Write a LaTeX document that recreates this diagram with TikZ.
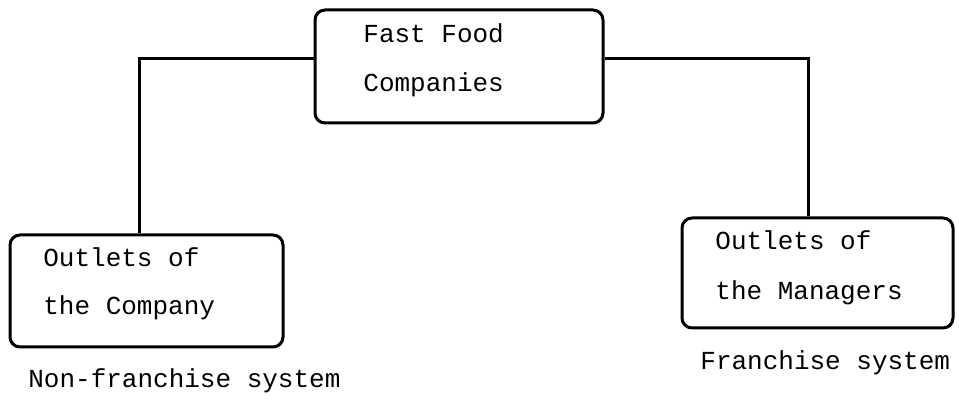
\documentclass[tikz,border=0pt]{standalone}
\usepackage{fontspec}
\setmainfont{Liberation Mono}
\usepackage{tikz}
\usetikzlibrary{positioning}
\tikzstyle{orgbox} = [draw, line width=1.5pt, rounded corners=5pt, inner sep=0pt]
\tikzstyle{boxtext} = [anchor=base west, inner sep=0pt, font=\fontsize{13}{15}\selectfont]
\tikzstyle{link} = [line width=1.5pt]

\begin{document}
\begin{tikzpicture}[x=0.5pt, y=-0.5pt]
\useasboundingbox (0,0) rectangle (959,405);
% Top box
\node[orgbox, minimum width=144pt, minimum height=56.5pt] (comp) at (459,66.5) {};
\node[boxtext] (comp1) at (363,43) {Fast Food};
\node[boxtext] (comp2) at (363,92) {Companies};

% Company outlets
\node[orgbox, minimum width=136.5pt, minimum height=56pt] (own) at (146.5,291) {};
\node[boxtext] (own1) at (43,267) {Outlets of};
\node[boxtext] (own2) at (43,315) {the Company};
\node[boxtext] (ownlbl) at (28,388) {Non-franchise system};

% Managers' outlets
\node[orgbox, minimum width=135.5pt, minimum height=55pt] (mgr) at (817.5,273) {};
\node[boxtext] (mgr1) at (715,250) {Outlets of};
\node[boxtext] (mgr2) at (715,300) {the Managers};
\node[boxtext] (mgrlbl) at (700,370) {Franchise system};

% Connectors
\draw[link] ([yshift=3.75pt]comp.west) -| ([xshift=-3.75pt]own.north);
\draw[link] ([yshift=4pt]comp.east) -| ([xshift=-4.75pt]mgr.north);
\end{tikzpicture}
\end{document}
